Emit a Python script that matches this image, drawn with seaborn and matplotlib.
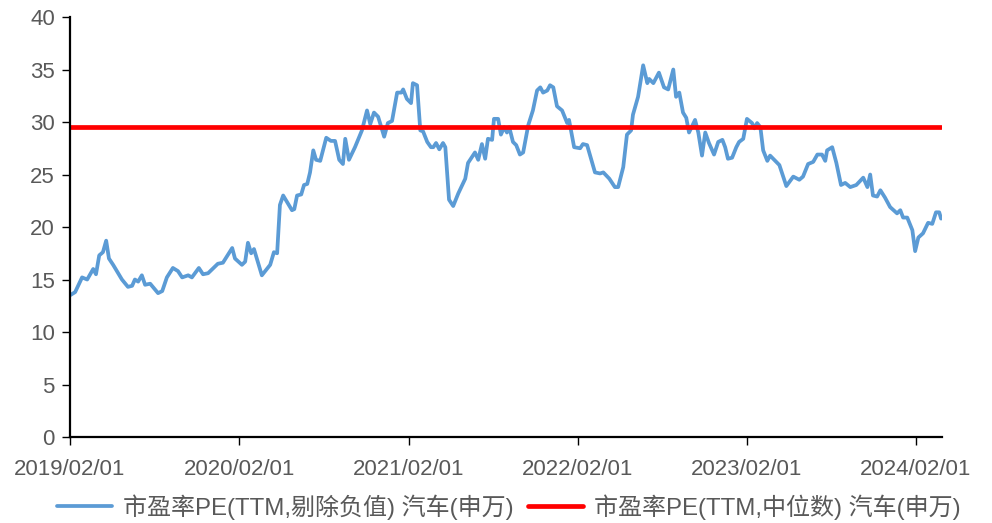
import numpy as np
import pandas as pd
import seaborn as sns
import matplotlib.pyplot as plt
import matplotlib.dates as mdates

# Data, days counted from 2019/02/01
START = "2019-02-01"
days = [
    0, 11, 26, 37, 50, 56, 63, 71, 78, 84,
    93, 112, 125, 134, 140, 147, 155, 162, 173, 190,
    199, 209, 222, 233, 242, 255, 263, 278, 287, 298,
    319, 330, 350, 356, 371, 378, 384, 391, 397, 414,
    432, 440, 447, 453, 460, 479, 484, 490, 499, 505,
    512, 518, 525, 531, 540, 553, 563, 572, 581, 589,
    594, 602, 615, 630, 641, 648, 656, 665, 678, 686,
    695, 706, 715, 719, 727, 736, 740, 749, 756, 762,
    771, 779, 784, 790, 797, 805, 810, 818, 827, 838,
    853, 859, 874, 881, 889, 896, 902, 911, 915, 924,
    930, 937, 943, 948, 956, 963, 971, 978, 989, 999,
    1008, 1015, 1021, 1030, 1036, 1043, 1051, 1062, 1073, 1077,
    1088, 1101, 1107, 1116, 1133, 1144, 1151, 1164, 1176, 1183,
    1194, 1202, 1211, 1215, 1226, 1237, 1246, 1250, 1259, 1271,
    1282, 1291, 1302, 1308, 1315, 1323, 1330, 1336, 1349, 1356,
    1364, 1371, 1379, 1390, 1399, 1408, 1414, 1420, 1429, 1438,
    1444, 1453, 1461, 1472, 1477, 1483, 1490, 1496, 1505, 1511,
    1520, 1531, 1546, 1561, 1574, 1582, 1593, 1604, 1613, 1623,
    1630, 1634, 1645, 1654, 1664, 1673, 1684, 1697, 1712, 1721,
    1727, 1733, 1742, 1749, 1759, 1770, 1785, 1792, 1798, 1807,
    1818, 1824, 1831, 1841, 1852, 1861, 1869, 1876, 1880,
]
pe_ttm = [
    13.5, 13.8, 15.2, 15.0, 16.0, 15.5, 17.3, 17.6, 18.7, 17.0,
    16.4, 15.0, 14.3, 14.4, 15.0, 14.8, 15.4, 14.5, 14.6, 13.7,
    13.9, 15.2, 16.1, 15.8, 15.2, 15.4, 15.2, 16.1, 15.5, 15.6,
    16.5, 16.6, 18.0, 17.0, 16.4, 16.7, 18.5, 17.5, 17.9, 15.4,
    16.4, 17.6, 17.5, 22.1, 23.0, 21.6, 21.7, 23.0, 23.1, 24.0,
    24.1, 25.2, 27.3, 26.4, 26.3, 28.5, 28.2, 28.2, 26.4, 26.0,
    28.4, 26.4, 27.6, 29.2, 31.1, 29.8, 30.9, 30.5, 28.6, 29.9,
    30.1, 32.8, 32.8, 33.1, 32.2, 31.8, 33.7, 33.5, 29.2, 29.1,
    28.1, 27.6, 27.6, 28.0, 27.4, 28.0, 27.6, 22.6, 22.0, 23.2,
    24.6, 26.1, 27.1, 26.4, 27.9, 26.5, 28.4, 28.3, 30.3, 30.3,
    28.8, 29.5, 29.0, 29.5, 28.1, 27.8, 26.9, 27.1, 29.7, 31.1,
    33.0, 33.3, 32.8, 33.0, 33.5, 33.3, 31.5, 31.1, 29.9, 30.2,
    27.6, 27.5, 27.9, 27.8, 25.2, 25.1, 25.2, 24.6, 23.8, 23.8,
    25.7, 28.8, 29.2, 30.7, 32.4, 35.4, 33.7, 34.1, 33.7, 34.7,
    33.3, 33.1, 35.0, 32.4, 32.8, 30.9, 30.4, 29.0, 30.2, 29.0,
    26.8, 29.0, 28.0, 26.9, 28.1, 28.3, 27.6, 26.5, 26.6, 27.6,
    28.1, 28.4, 30.3, 29.9, 29.4, 29.9, 29.5, 27.3, 26.3, 26.8,
    26.4, 25.9, 23.9, 24.8, 24.5, 24.8, 26.0, 26.2, 26.9, 26.9,
    26.3, 27.3, 27.6, 26.1, 24.0, 24.2, 23.8, 24.0, 24.7, 23.8,
    25.0, 23.0, 22.9, 23.5, 22.8, 21.9, 21.3, 21.6, 20.9, 20.9,
    19.7, 17.7, 19.0, 19.4, 20.4, 20.3, 21.4, 21.4, 20.8,
]
median_pe = 29.5
tick_dates = ["2019-02-01", "2020-02-01", "2021-02-01",
              "2022-02-01", "2023-02-01", "2024-02-01"]

label_pe = "市盈率PE(TTM,剔除负值) 汽车(申万)"
label_med = "市盈率PE(TTM,中位数) 汽车(申万)"

df = pd.DataFrame({
    "date": pd.Timestamp(START) + pd.to_timedelta(days, unit="D"),
    "pe": pe_ttm,
})
df["median"] = median_pe

# Style
sns.set_style("ticks")
plt.rcParams["font.family"] = ["Liberation Sans", "Noto Sans CJK SC", "DejaVu Sans"]

fig = plt.figure(figsize=(9.92, 5.23), dpi=100)
ax = fig.add_axes([0.0706, 0.1644, 0.8790, 0.8031])

sns.lineplot(data=df, x="date", y="pe", ax=ax, color="#5B9BD5",
             linewidth=2.7, label=label_pe)
sns.lineplot(data=df, x="date", y="median", ax=ax, color="#FF0000",
             linewidth=3.4, label=label_med)

ax.set_ylim(0, 40)
ax.set_yticks(np.arange(0, 41, 5))
ax.set_xlim(df["date"].iloc[0], df["date"].iloc[-1] + pd.Timedelta(days=2))
ax.set_xticks(pd.to_datetime(tick_dates))
ax.xaxis.set_major_formatter(mdates.DateFormatter("%Y/%m/%d"))
ax.set_xlabel("")
ax.set_ylabel("")

sns.despine(ax=ax)
for s in ["left", "bottom"]:
    ax.spines[s].set_color("black")
    ax.spines[s].set_linewidth(1.6)
ax.tick_params(axis="both", colors="black", length=6, width=1.0,
               labelsize=16, labelcolor="#595959")
ax.tick_params(axis="x", pad=10)
ax.tick_params(axis="y", pad=5)

ax.get_legend().remove()
handles, labels = ax.get_legend_handles_labels()
fig.legend(handles, labels, loc="center", bbox_to_anchor=(0.513, 0.031),
           ncol=2, frameon=False, fontsize=17.3, handlelength=2.3,
           handletextpad=0.45, columnspacing=0.6, labelcolor="#595959")

fig.savefig("out.png", dpi=100)
